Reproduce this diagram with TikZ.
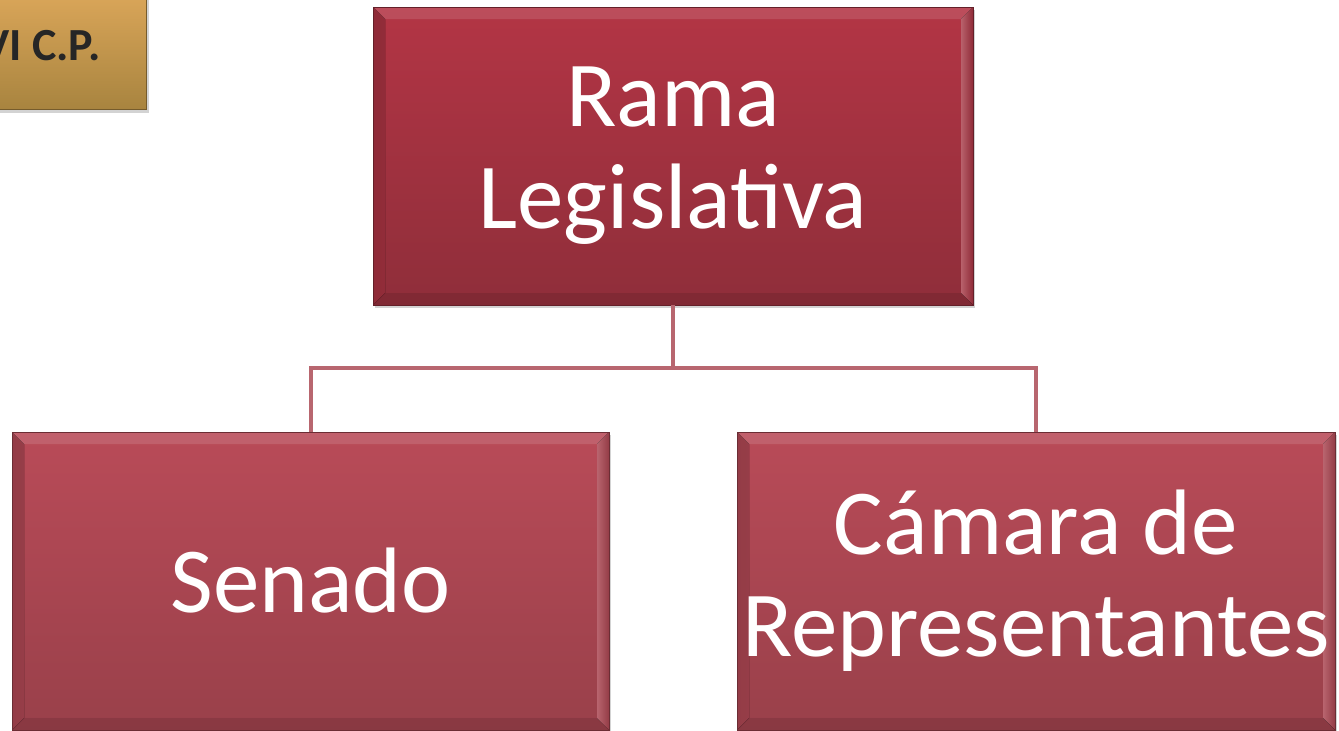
\documentclass[tikz,border=0pt]{standalone}
\usepackage{fontspec}
\setmainfont{Carlito}
\usetikzlibrary{shadows,calc}
\definecolor{topA}{HTML}{B33545}
\definecolor{topB}{HTML}{8F2E3A}
\definecolor{botA}{HTML}{B94B58}
\definecolor{botB}{HTML}{99404A}
\definecolor{pinkhi}{HTML}{F28A96}
\definecolor{goldA}{HTML}{DCA75A}
\definecolor{goldB}{HTML}{A8843F}
\definecolor{connc}{HTML}{B8666F}
\tikzset{
  bevel/.style={path picture={
    \fill[left color=#1, right color=pinkhi]
      (path picture bounding box.north west) -- ++(12,12)
      -- ($(path picture bounding box.south west)+(12,-12)$)
      -- (path picture bounding box.south west) -- cycle;
    \fill[left color=pinkhi!80!#1, right color=#1]
      (path picture bounding box.north east) -- ++(-12,12)
      -- ($(path picture bounding box.south east)+(-12,-12)$)
      -- (path picture bounding box.south east) -- cycle;
    \fill[white, opacity=0.12]
      (path picture bounding box.north west) -- ++(12,12)
      -- ($(path picture bounding box.north east)+(-12,12)$)
      -- (path picture bounding box.north east) -- cycle;
    \fill[black, opacity=0.10]
      (path picture bounding box.south west) -- ++(12,-12)
      -- ($(path picture bounding box.south east)+(-12,-12)$)
      -- (path picture bounding box.south east) -- cycle;
  }},
  redbox/.style={draw=#1!70!black, line width=0.8pt, minimum height=298pt,
    text=white, align=center, font=\fontsize{93}{102}\selectfont,
    drop shadow={opacity=0.35, shadow xshift=2pt, shadow yshift=-3pt}},
  conn/.style={draw=connc, line width=4pt},
}
\begin{document}
\begin{tikzpicture}[x=1pt,y=-1pt]
\useasboundingbox (0,0) rectangle (1339,731);
% gold box
\node[draw=goldB!70!black, line width=0.8pt, top color=goldA, bottom color=goldB,
  minimum width=207pt, minimum height=120pt, anchor=south east,
  drop shadow={opacity=0.35, shadow xshift=2pt, shadow yshift=-3pt}] (gold) at (147,110) {};
\node[anchor=base east, font=\bfseries\fontsize{46}{50}\selectfont, text=black!85] (gtext) at (104,60) {VI C.P.};
% top box
\node[redbox=topB, top color=topA, bottom color=topB, bevel=topA!80!black,
  minimum width=600pt] (top) at (673,156) {Rama\\Legislativa};
% bottom boxes
\node[redbox=botB, top color=botA, bottom color=botB, bevel=botA!80!black,
  minimum width=597pt] (senado) at (310.5,581) {Senado};
\node[redbox=botB, top color=botA, bottom color=botB, bevel=botA!80!black,
  minimum width=598pt, inner sep=0pt] (camara) at (1036,581) {Cámara de\\Representantes};
% connectors
\draw[conn] (top.south) -- ++(0,63) -| (senado.north);
\draw[conn] (top.south) -- ++(0,63) -| (camara.north);
\end{tikzpicture}
\end{document}
